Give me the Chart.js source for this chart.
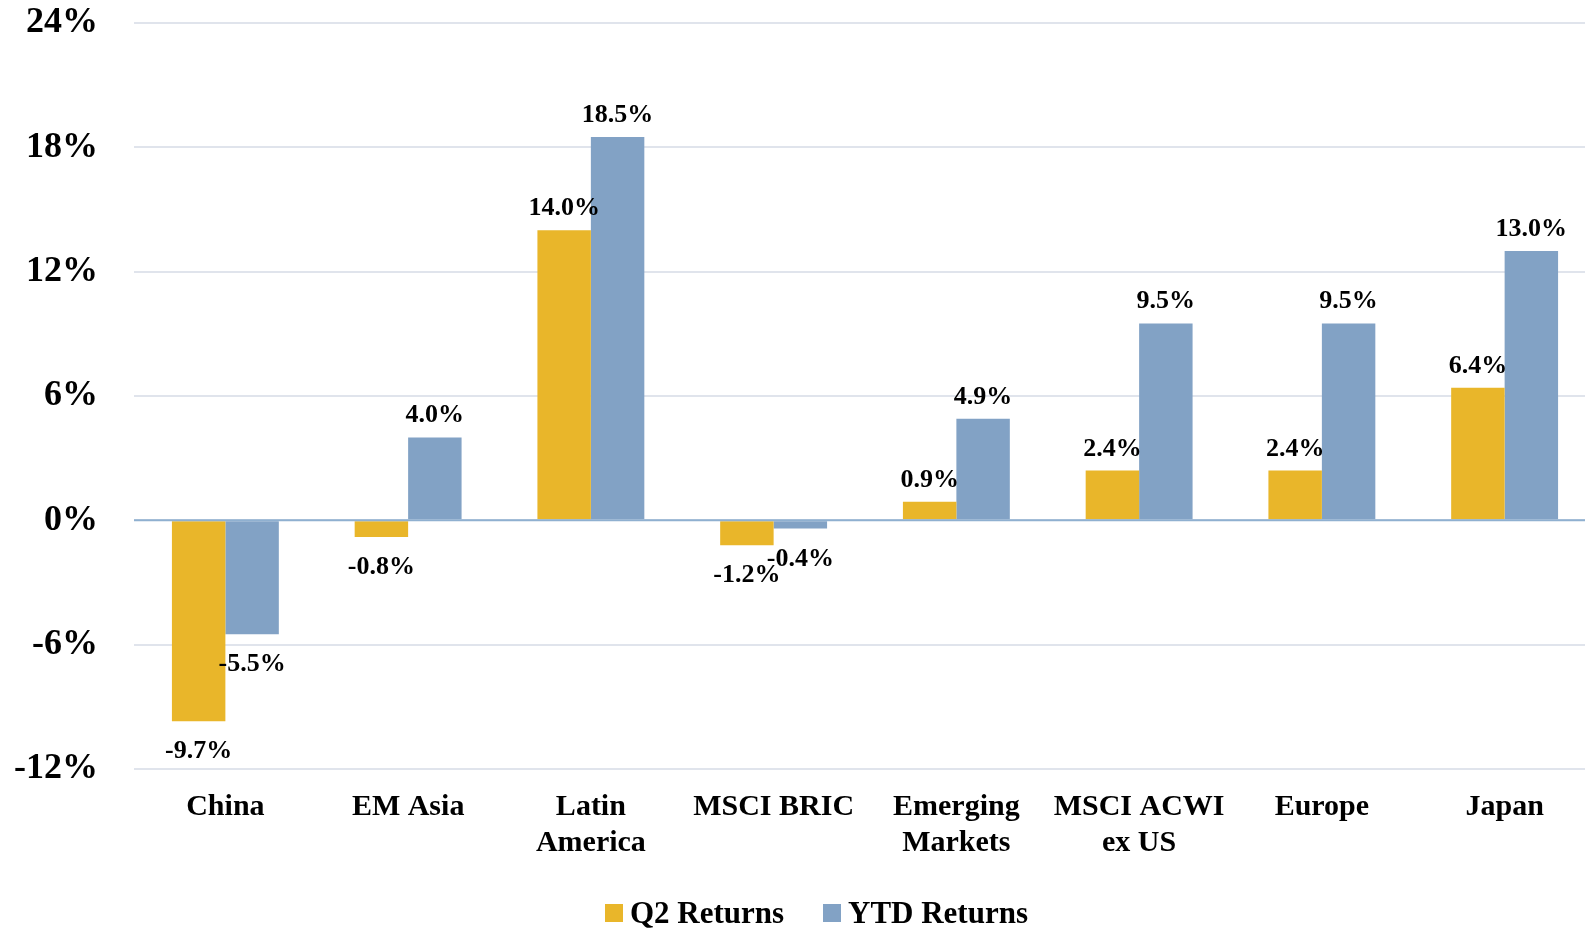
<!DOCTYPE html>
<html>
<head>
<meta charset="utf-8">
<script src="https://cdn.jsdelivr.net/npm/chart.js@4.4.1/dist/chart.umd.min.js"></script>
<style>
  html, body { margin: 0; padding: 0; background: #fff; overflow: hidden; }
  #wrap { position: relative; width: 1596px; height: 928px; }
  .legend { position: absolute; top: 0; left: 0; font: bold 31px "Liberation Serif", "Times New Roman", serif; color: #000; }
  .legend .box { position: absolute; width: 18px; height: 18px; }
  .legend .txt { position: absolute; line-height: 31px; white-space: nowrap; }
</style>
</head>
<body>
<div id="wrap">
  <canvas id="barChart"></canvas>
  <div class="legend">
    <div class="box" style="left:605px; top:904px; background:#E9B62A;"></div>
    <div class="txt" style="left:630px; top:897px;">Q2 Returns</div>
    <div class="box" style="left:823px; top:904px; background:#82A2C5;"></div>
    <div class="txt" style="left:848px; top:897px;">YTD Returns</div>
  </div>
</div>
<script>
const categories = [
  "China",
  "EM Asia",
  ["Latin", "America"],
  "MSCI BRIC",
  ["Emerging", "Markets"],
  ["MSCI ACWI", "ex US"],
  "Europe",
  "Japan",
];
const q2Returns = [-9.7, -0.8, 14.0, -1.2, 0.9, 2.4, 2.4, 6.4];
const ytdReturns = [-5.5, 4.0, 18.5, -0.4, 4.9, 9.5, 9.5, 13.0];
const yTicks = [-12, -6, 0, 6, 12, 18, 24];

const serif = '"Liberation Serif", "Times New Roman", serif';

// value labels above / below each bar
const valueLabels = {
  id: "valueLabels",
  afterDatasetsDraw(chart) {
    const ctx = chart.ctx;
    ctx.save();
    ctx.font = "bold 26px " + serif;
    ctx.fillStyle = "#000";
    ctx.textAlign = "center";
    ctx.textBaseline = "alphabetic";
    chart.data.datasets.forEach((ds, i) => {
      chart.getDatasetMeta(i).data.forEach((bar, j) => {
        const v = ds.data[j];
        const y = v >= 0 ? bar.y - 15 : bar.y + 37;
        ctx.fillText(v.toFixed(1) + "%", bar.x, y);
      });
    });
    ctx.restore();
  },
};

// zero line drawn over the bars
const zeroLine = {
  id: "zeroLine",
  afterDatasetsDraw(chart) {
    const y = chart.scales.y.getPixelForValue(0);
    const ctx = chart.ctx;
    ctx.save();
    ctx.strokeStyle = "#8FB0D0";
    ctx.lineWidth = 2;
    ctx.beginPath();
    ctx.moveTo(chart.chartArea.left, y);
    ctx.lineTo(chart.chartArea.right, y);
    ctx.stroke();
    ctx.restore();
  },
};

var ctx = document.getElementById("barChart").getContext("2d");

var barChart = new Chart(ctx, {
  type: "bar",
  data: {
    labels: categories,
    datasets: [
      {
        label: "Q2 Returns",
        data: q2Returns,
        backgroundColor: "#E9B62A",
      },
      {
        label: "YTD Returns",
        data: ytdReturns,
        backgroundColor: "#82A2C5",
      },
    ],
  },
  options: {
    responsive: true,
    maintainAspectRatio: false,
    animation: false,
    layout: {
      padding: { top: 23, left: 14, right: 0, bottom: 69 },
    },
    datasets: {
      bar: {
        categoryPercentage: 0.585,
        barPercentage: 1.0,
      },
    },
    scales: {
      x: {
        grid: { display: false, drawTicks: false },
        border: { display: false },
        afterFit(scale) {
          scale.height = 90;
        },
        ticks: {
          autoSkip: false,
          maxRotation: 0,
          padding: 20,
          color: "#000",
          font: { family: serif, size: 30, weight: "bold" },
        },
      },
      y: {
        min: -12,
        max: 24,
        afterBuildTicks(scale) {
          scale.ticks = yTicks.map((v) => ({ value: v }));
        },
        afterFit(scale) {
          scale.width = 120;
          scale.paddingTop = 0;
          scale.paddingBottom = 0;
        },
        grid: {
          color: "#E0E4EC",
          lineWidth: 2,
          drawTicks: false,
        },
        border: { display: false },
        ticks: {
          padding: 36,
          color: "#000",
          font: { family: serif, size: 36, weight: "bold" },
          callback: (v) => v + "%",
        },
      },
    },
    plugins: {
      legend: { display: false },
      tooltip: { enabled: false },
    },
  },
  plugins: [valueLabels, zeroLine],
});
</script>
</body>
</html>
